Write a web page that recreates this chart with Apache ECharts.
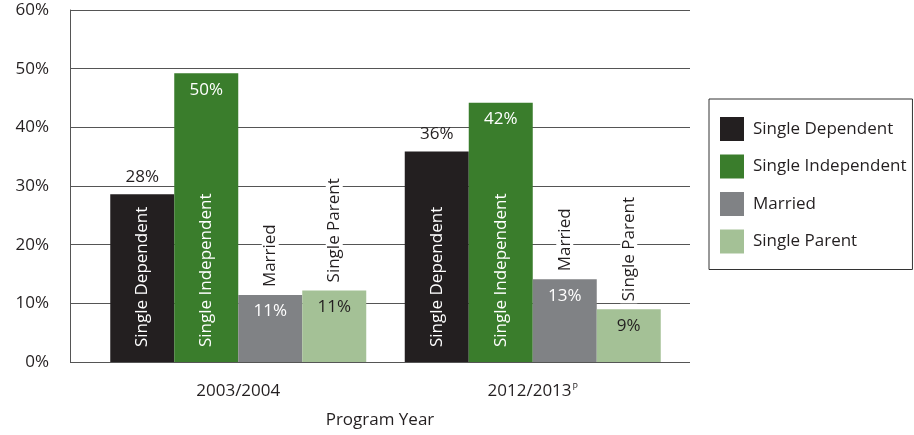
<!DOCTYPE html>
<html>
<head>
<meta charset="utf-8">
<script src="https://cdn.jsdelivr.net/npm/echarts@6/dist/echarts.min.js"></script>
<style>
html,body{margin:0;padding:0;background:#fff;}
#chart{width:914px;height:435px;}
</style>
</head>
<body>
<div id="chart"></div>
<script>
// ---- data ----
var categories = ['2003/2004', '2012/2013'];
var preliminary = [false, true];
var seriesNames = ['Single Dependent', 'Single Independent', 'Married', 'Single Parent'];
var singleDependent = [28.6, 35.9];
var singleIndependent = [49.2, 44.2];
var married = [11.4, 14.1];
var singleParent = [12.2, 9.0];
var printedSingleDependent = [28, 36];
var printedSingleIndependent = [50, 42];
var printedMarried = [11, 13];
var printedSingleParent = [11, 9];
var yTicks = [0, 10, 20, 30, 40, 50, 60];

// ---- styling ----
var FONT = '"Open Sans", "Noto Sans", sans-serif';
var FS = 17;
var TXT = '#231f20';
var colors = ['#231f20', '#3a7d2c', '#808285', '#a4c196'];
var values = [singleDependent, singleIndependent, married, singleParent];
var printed = [printedSingleDependent, printedSingleIndependent, printedMarried, printedSingleParent];

var nameInside = {
  show: true, position: 'insideBottom', distance: 15, rotate: 90,
  align: 'left', verticalAlign: 'middle',
  color: '#fff', fontSize: FS, fontFamily: FONT,
  formatter: function (p) { return p.seriesName; }
};
var nameAbove = {
  show: true, position: 'top', distance: 6, rotate: 90,
  align: 'left', verticalAlign: 'middle',
  color: TXT, fontSize: FS, fontFamily: FONT,
  backgroundColor: '#fff', padding: [0, 2, 0, 2],
  formatter: function (p) { return p.seriesName; }
};
function valueLabel(i, pos, color) {
  return {
    show: true, position: pos, distance: pos === 'top' ? 9 : 8,
    color: color, fontSize: FS, fontFamily: FONT,
    formatter: function (p) { return printed[i][p.dataIndex] + '%'; }
  };
}
var nameLabels = [nameInside, nameInside, nameAbove, nameAbove];
var valueLabels = [
  valueLabel(0, 'top', TXT),
  valueLabel(1, 'insideTop', '#fff'),
  valueLabel(2, 'insideTop', '#fff'),
  valueLabel(3, 'insideTop', TXT)
];

var series = [];
seriesNames.forEach(function (n, i) {
  series.push({
    name: n, type: 'bar', xAxisIndex: 1, yAxisIndex: 1,
    data: values[i], barWidth: 64, barGap: '0%',
    itemStyle: { color: colors[i] },
    label: nameLabels[i], z: 3
  });
});
seriesNames.forEach(function (n, i) {
  series.push({
    name: n + ' value', type: 'bar', xAxisIndex: 2, yAxisIndex: 1,
    data: values[i], barWidth: 64, barGap: '0%',
    itemStyle: { color: 'rgba(0,0,0,0)' },
    label: valueLabels[i], z: 4, silent: true
  });
});

var chart = echarts.init(document.getElementById('chart'), null, { renderer: 'canvas' });
chart.setOption({
  animation: false,
  textStyle: { fontFamily: FONT },
  legend: {
    data: seriesNames,
    orient: 'vertical',
    left: 709, top: 99,
    padding: [18, 6, 16, 11],
    itemWidth: 24, itemHeight: 24, itemGap: 13.5,
    icon: 'rect',
    borderColor: '#333', borderWidth: 1,
    textStyle: { color: TXT, fontSize: FS, fontFamily: FONT, padding: [0, 0, 0, 4] }
  },
  grid: [
    { left: 70, right: 224, top: 10, bottom: 73, containLabel: false },
    { left: 91, right: 234, top: 10, bottom: 73, containLabel: false }
  ],
  xAxis: [
    {
      gridIndex: 0, type: 'category', data: categories,
      axisLine: { show: false }, axisTick: { show: false }, axisLabel: { show: false },
      name: 'Program Year', nameLocation: 'middle', nameGap: 50,
      nameTextStyle: { color: TXT, fontSize: FS, fontFamily: FONT }
    },
    {
      gridIndex: 1, type: 'category', data: categories,
      axisLine: { show: false }, axisTick: { show: false },
      axisLabel: {
        margin: 21, color: TXT, fontSize: FS, fontFamily: FONT,
        formatter: function (v, idx) { return preliminary[idx] ? v + '{sup|P}' : v; },
        rich: { sup: { fontSize: 9, verticalAlign: 'top', color: TXT, padding: [0, 0, 8, 1] } }
      }
    },
    {
      gridIndex: 1, type: 'category', data: categories, show: false
    }
  ],
  yAxis: [
    {
      gridIndex: 0, type: 'value', min: 0, max: 60, interval: 10,
      axisLine: { show: true, lineStyle: { color: '#555', width: 1 } },
      axisTick: { show: false },
      splitLine: { show: true, lineStyle: { color: '#555', width: 1 } },
      axisLabel: {
        margin: 21, color: TXT, fontSize: FS, fontFamily: FONT,
        formatter: function (v) { return yTicks.indexOf(v) >= 0 ? v + '%' : ''; }
      }
    },
    {
      gridIndex: 1, type: 'value', min: 0, max: 60, interval: 10, show: false,
      splitLine: { show: false }
    }
  ],
  series: series
});
</script>
</body>
</html>
